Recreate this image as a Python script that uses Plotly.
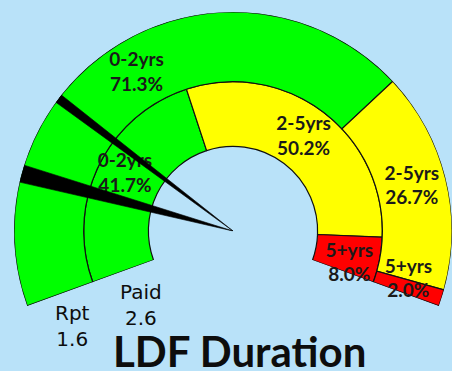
import numpy as np
import plotly.graph_objects as go

# Doughnut rings: share of claims by duration band
bands = ["0-2yrs", "2-5yrs", "5+yrs"]
band_colors = ["#00FF00", "#FFFF00", "#FF0000"]
paid_pct = [41.7, 50.2, 8.0]        # inner ring
reported_pct = [71.3, 26.7, 2.0]    # outer ring

# Gauge needles: LDF duration in years (scale 0..10)
needle_names = ["Rpt", "Paid"]
needle_values = [1.6, 2.6]
needle_max = 10.0

title_text = "LDF Duration"

# ---- layout geometry (pixels) ----
W, H = 452, 371
START, SPAN = 200.0, 220.0          # gauge starts at 200 deg and sweeps clockwise
CX, CY, R_PX = 233.0, 231.0, 219.0  # gauge centre and outer radius on the page
R_HOLE, R_MID, R_OUT = 85.0, 150.0, 220.0

needle_half_width = [2.3, 1.2]      # degrees
# small nudges for segment labels (radius, degrees)
inner_label_dr = [5.0, 0.0, 4.0]
inner_label_dth = [1.7, 0.0, 4.7]
outer_label_dr = [0.0, 0.0, -2.0]
outer_label_dth = [0.0, 0.0, -2.1]

bottom_ext = R_PX * np.sin(np.radians(START - 180))
x_dom = [(CX - R_PX) / W, (CX + R_PX) / W]
y_dom = [(H - (CY + bottom_ext)) / H, (H - (CY - R_PX)) / H]

fig = go.Figure()


def ring(pcts, r0, r1, dr, dth):
    p = np.asarray(pcts, dtype=float)
    frac = p / p.sum()
    widths = frac * SPAN
    cum = np.concatenate([[0.0], np.cumsum(widths)])
    centers = cum[:-1] + widths / 2
    fig.add_trace(go.Barpolar(
        r=[r1 - r0] * len(p), base=[r0] * len(p), theta=centers, width=widths,
        marker=dict(color=band_colors, line=dict(color="#111111", width=1.2)),
        hoverinfo="skip", showlegend=False,
    ))
    labels = [f"{b}<br>{v:.1f}%" for b, v in zip(bands, pcts)]
    return labels, centers + np.asarray(dth), (r0 + r1) / 2 + np.asarray(dr)


lab_in, th_in, r_in = ring(paid_pct, R_HOLE, R_MID, inner_label_dr, inner_label_dth)
lab_out, th_out, r_out = ring(reported_pct, R_MID, R_OUT, outer_label_dr, outer_label_dth)

fig.add_trace(go.Scatterpolar(
    r=np.concatenate([r_in, r_out]), theta=np.concatenate([th_in, th_out]),
    text=lab_in + lab_out, mode="text", cliponaxis=False,
    textfont=dict(family="Lato", size=19, color="#1a1a1a", weight="bold"),
    hoverinfo="skip", showlegend=False,
))

# needles drawn as thin wedges from the centre to the outer rim
for v, hw in zip(needle_values, needle_half_width):
    th = v / needle_max * SPAN
    fig.add_trace(go.Scatterpolar(
        r=[0, R_OUT, R_OUT, 0], theta=[th, th - hw, th + hw, th],
        mode="lines", fill="toself", fillcolor="#000000",
        line=dict(color="#000000", width=0.6),
        hoverinfo="skip", showlegend=False,
    ))

fig.update_layout(
    width=W, height=H,
    margin=dict(l=0, r=0, t=0, b=0),
    paper_bgcolor="#B9E2F9", plot_bgcolor="#B9E2F9",
    polar=dict(
        domain=dict(x=x_dom, y=y_dom),
        sector=[START - SPAN, START],
        hole=0,
        bgcolor="rgba(0,0,0,0)",
        radialaxis=dict(range=[0, R_OUT], visible=False, showgrid=False),
        angularaxis=dict(rotation=START, direction="clockwise", thetaunit="degrees",
                         visible=False, showgrid=False, showline=False, ticks=""),
    ),
)

# needle captions and title
cap_pos = [(72, 326), (141, 305)]
for name, v, (px, py) in zip(needle_names, needle_values, cap_pos):
    fig.add_annotation(x=px / W, y=1 - py / H, xref="paper", yref="paper",
                       text=f"{name}<br>{v:.1f}", showarrow=False,
                       font=dict(family="DejaVu Sans", size=20, color="#0d0d0d"),
                       xanchor="center", yanchor="middle")

fig.add_annotation(x=239 / W, y=1 - 351 / H, xref="paper", yref="paper",
                   text=title_text, showarrow=False,
                   font=dict(family="Lato", size=42, color="#0d0d0d", weight="bold"),
                   xanchor="center", yanchor="middle")

fig.write_html("out.html")
